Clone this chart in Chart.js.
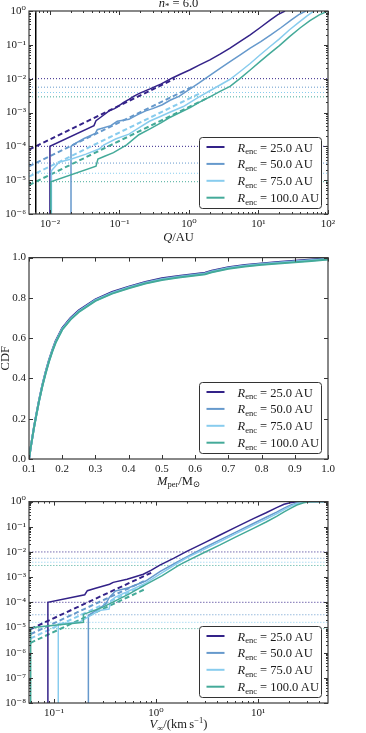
<!DOCTYPE html>
<html><head><meta charset="utf-8">
<script src="https://cdn.jsdelivr.net/npm/chart.js@4.4.1/dist/chart.umd.min.js"></script>
<style>
html,body{margin:0;padding:0;background:#fff;width:366px;height:733px;overflow:hidden;}
canvas{position:absolute;left:0;}
</style></head><body>
<canvas id="c1" width="366" height="248" style="top:0px;width:366px;height:248px"></canvas>
<canvas id="c2" width="366" height="244" style="top:248px;width:366px;height:244px"></canvas>
<canvas id="c3" width="366" height="241" style="top:492px;width:366px;height:241px"></canvas>
<script>
const COLORS = ['#332288', '#6699CC', '#88CCEE', '#44AA99'];
const rEnc = ['25.0', '50.0', '75.0', '100.0'];

// ---------- Panel 1: Q / AU ----------
const qTicks = [0.01, 0.1, 1, 10, 100];
const pTicks1 = [1e-6, 1e-5, 1e-4, 1e-3, 1e-2, 1e-1, 1];
const levelHigh = [1e-2, 5.6e-3, 3.9e-3, 2.9e-3];
const levelLow = [1e-4, 3.2e-5, 1.6e-5, 9e-6];
const qCut = 0.00625;

const q25 = [0.01, 0.01, 0.043, 0.046, 0.055, 0.071, 0.085, 0.099, 0.115, 0.137, 0.16, 0.19, 0.23, 0.275, 0.33, 0.4, 0.48, 0.577, 0.75, 1.04, 1.4, 2.0, 2.8, 3.9, 5.4, 7.6, 10.5, 14.7, 19, 24.1];
const p25 = [1e-7, 1e-4, 4.1e-4, 5.7e-4, 7.5e-4, 1.12e-3, 1.3e-3, 1.6e-3, 2.0e-3, 2.45e-3, 3.0e-3, 3.6e-3, 4.3e-3, 5.0e-3, 5.9e-3, 7.0e-3, 8.6e-3, 1.05e-2, 1.35e-2, 1.84e-2, 2.5e-2, 3.6e-2, 5.3e-2, 8.0e-2, 0.125, 0.197, 0.32, 0.54, 0.78, 1.0];
const q50 = [0.0201, 0.0201, 0.0222, 0.031, 0.045, 0.048, 0.075, 0.093, 0.137, 0.18, 0.239, 0.3, 0.414, 0.535, 0.72, 1.04, 1.4, 2.0, 2.8, 3.9, 5.4, 7.6, 10.8, 15.2, 21, 29.4, 38, 48];
const p50 = [1e-7, 1e-4, 1.17e-4, 1.7e-4, 2.4e-4, 3.1e-4, 4.1e-4, 5.5e-4, 6.3e-4, 8.5e-4, 1.12e-3, 1.3e-3, 1.7e-3, 2.3e-3, 3.0e-3, 5.0e-3, 7.5e-3, 1.25e-2, 2.0e-2, 3.2e-2, 5.0e-2, 8.0e-2, 0.125, 0.2, 0.32, 0.54, 0.78, 1.0];
const q75 = [0.0105, 0.0105, 0.0135, 0.021, 0.033, 0.051, 0.06, 0.088, 0.137, 0.19, 0.27, 0.38, 0.52, 0.83, 1.04, 1.4, 2.0, 2.8, 3.9, 5.4, 7.6, 10.5, 14.7, 20, 28, 38, 50, 63];
const p75 = [1e-7, 1.9e-5, 3.4e-5, 4.3e-5, 5.9e-5, 8.3e-5, 1.1e-4, 1.65e-4, 2.3e-4, 3.5e-4, 5.5e-4, 7.5e-4, 1.0e-3, 1.5e-3, 2.0e-3, 2.9e-3, 4.4e-3, 6.5e-3, 9.6e-3, 1.6e-2, 2.8e-2, 5.0e-2, 8.9e-2, 0.15, 0.28, 0.46, 0.72, 1.0];
const q100 = [0.0103, 0.0103, 0.046, 0.049, 0.06, 0.082, 0.127, 0.19, 0.275, 0.4, 0.52, 1.04, 1.4, 2.0, 2.8, 3.9, 5.4, 7.6, 10.5, 14.7, 20, 28, 40, 55, 75, 100];
const p100 = [1e-7, 9e-6, 2.6e-5, 4.2e-5, 5e-5, 6.5e-5, 1.1e-4, 2.2e-4, 3.3e-4, 5.0e-4, 7.0e-4, 1.4e-3, 2.0e-3, 2.9e-3, 4.2e-3, 5.9e-3, 1.0e-2, 1.8e-2, 3.2e-2, 5.7e-2, 9.5e-2, 0.175, 0.32, 0.52, 0.77, 1.0];
// dashed analytic lines (start / end)
const qDash = [[0.005, 0.625], [0.005, 1.09], [0.005, 1.52], [0.005, 2.0]];
const pDash = [[8e-5, 1e-2], [2.56e-5, 5.6e-3], [1.28e-5, 3.9e-3], [7.2e-6, 2.9e-3]];

// ---------- Panel 2: M_per ----------
const mTicks = [0.1, 0.2, 0.3, 0.4, 0.5, 0.6, 0.7, 0.8, 0.9, 1.0];
const cdfTicks = [0, 0.2, 0.4, 0.6, 0.8, 1.0];
const mPer = [0.1, 0.105, 0.11, 0.115, 0.12, 0.13, 0.14, 0.15, 0.16, 0.17, 0.18, 0.2, 0.225, 0.25, 0.3, 0.35, 0.4, 0.45, 0.5, 0.55, 0.6, 0.63, 0.65, 0.7, 0.75, 0.8, 0.85, 0.9, 0.95, 1.0];
const cdf25 = [0, 0.056, 0.107, 0.158, 0.204, 0.29, 0.366, 0.432, 0.49, 0.54, 0.585, 0.65, 0.70, 0.738, 0.793, 0.829, 0.856, 0.879, 0.897, 0.909, 0.919, 0.925, 0.935, 0.952, 0.963, 0.971, 0.978, 0.984, 0.990, 0.997];
const cdf50 = [0, 0.056, 0.106, 0.157, 0.202, 0.288, 0.364, 0.43, 0.488, 0.538, 0.582, 0.647, 0.697, 0.735, 0.790, 0.826, 0.853, 0.876, 0.894, 0.906, 0.916, 0.922, 0.932, 0.950, 0.961, 0.969, 0.976, 0.982, 0.988, 0.995];
const cdf75 = [0, 0.055, 0.105, 0.156, 0.201, 0.286, 0.362, 0.427, 0.485, 0.535, 0.579, 0.644, 0.694, 0.732, 0.787, 0.823, 0.850, 0.873, 0.891, 0.903, 0.913, 0.919, 0.929, 0.947, 0.958, 0.966, 0.973, 0.979, 0.985, 0.992];
const cdf100 = [0, 0.055, 0.105, 0.155, 0.2, 0.285, 0.36, 0.425, 0.483, 0.533, 0.577, 0.642, 0.692, 0.730, 0.785, 0.821, 0.848, 0.871, 0.889, 0.901, 0.911, 0.917, 0.927, 0.945, 0.956, 0.964, 0.971, 0.977, 0.983, 0.990];

// ---------- Panel 3: V_inf ----------
const vTicks = [0.1, 1, 10];
const pTicks3 = [1e-8, 1e-7, 1e-6, 1e-5, 1e-4, 1e-3, 1e-2, 1e-1, 1];
const v25 = [0.087, 0.087, 0.2, 0.212, 0.26, 0.35, 0.38, 0.52, 0.75, 0.9, 1.09, 1.5, 2.0, 3.0, 4.24, 6.0, 9.0, 12, 15.2, 18, 20.6, 23, 25.7, 48];
const pv25 = [1e-9, 1e-4, 2e-4, 2.9e-4, 3.7e-4, 5.2e-4, 6.2e-4, 8.2e-4, 1.3e-3, 1.9e-3, 3.0e-3, 5.7e-3, 1.05e-2, 2.35e-2, 4.7e-2, 9.4e-2, 0.21, 0.36, 0.58, 0.78, 0.9, 0.97, 1.0, 1.0];
const v50 = [0.217, 0.217, 0.256, 0.32, 0.35, 0.40, 0.54, 0.79, 1.1, 1.6, 2.0, 3.0, 4.24, 6.0, 9.0, 12, 15.2, 18, 21, 24, 27, 30, 48];
const pv50 = [1e-9, 3e-5, 4.7e-5, 8.5e-5, 1.6e-4, 2.8e-4, 3.8e-4, 7.0e-4, 1.7e-3, 3.9e-3, 6.4e-3, 1.5e-2, 3.0e-2, 6.0e-2, 0.135, 0.24, 0.38, 0.55, 0.74, 0.89, 0.97, 1.0, 1.0];
const v75 = [0.110, 0.110, 0.176, 0.276, 0.346, 0.36, 0.40, 0.54, 0.79, 1.15, 1.68, 2.0, 3.0, 4.24, 6.0, 9.0, 12, 15.2, 18, 21, 24, 28, 32, 48];
const pv75 = [1e-9, 1.4e-5, 1.6e-5, 4.7e-5, 5.4e-5, 1.15e-4, 1.6e-4, 2.8e-4, 5.8e-4, 1.5e-3, 3.9e-3, 5.8e-3, 1.3e-2, 2.6e-2, 5.2e-2, 0.117, 0.2, 0.33, 0.48, 0.66, 0.84, 0.96, 1.0, 1.0];
const v100 = [0.059, 0.059, 0.194, 0.194, 0.298, 0.54, 0.79, 1.15, 1.68, 2.0, 3.0, 4.24, 6.0, 9.0, 12, 15.2, 18, 21, 24, 28, 32, 48];
const pv100 = [1e-9, 9.8e-6, 1.6e-5, 3.3e-5, 6.3e-5, 2.1e-4, 5.0e-4, 1.15e-3, 3.0e-3, 4.3e-3, 9.7e-3, 1.9e-2, 3.9e-2, 8.6e-2, 0.155, 0.26, 0.39, 0.55, 0.73, 0.9, 0.99, 1.0];
const vDash = [[0.05, 0.9], [0.05, 0.8], [0.05, 0.8], [0.05, 0.8]];
const pvDash = [[6.4e-6, 1.5e-3], [4e-6, 7.6e-4], [2.7e-6, 5.1e-4], [1.8e-6, 3.5e-4]];

// ---------- helpers ----------
const SERIF = '"Liberation Serif", "DejaVu Serif", serif';
const TXT = '#1a1a1a';
const xy = (xs, ys) => xs.map((x, i) => ({x: x, y: ys[i]}));
function ds(xs, ys, color, extra) {
  return Object.assign({data: xy(xs, ys), borderColor: color, backgroundColor: color,
    borderWidth: 1.5, pointRadius: 0, pointHoverRadius: 0, showLine: true, fill: false, tension: 0}, extra || {});
}
const SUP = {'-': '\u207B', '0': '\u2070', '1': '\u00B9', '2': '\u00B2', '3': '\u00B3', '4': '\u2074', '5': '\u2075', '6': '\u2076', '7': '\u2077', '8': '\u2078', '9': '\u2079'};
const powLabel = v => '10' + String(Math.round(Math.log10(v))).split('').map(c => SUP[c]).join('');

function logAxis(min, max, majors, isX, size) {
  return {
    type: 'logarithmic', min: min, max: max,
    afterBuildTicks: s => { s.ticks = majors.map(v => ({value: v})); },
    afterFit: s => { if (isX) s.height = size; else s.width = size; },
    ticks: {callback: v => powLabel(v), font: {family: SERIF, size: 11}, color: TXT, padding: isX ? 4 : 3, autoSkip: false, maxRotation: 0},
    grid: {display: false, drawTicks: false}, border: {display: false}
  };
}
function linAxis(min, max, majors, isX, size) {
  return {
    type: 'linear', min: min, max: max,
    afterBuildTicks: s => { s.ticks = majors.map(v => ({value: v})); },
    afterFit: s => { if (isX) s.height = size; else s.width = size; },
    ticks: {callback: v => Number(v).toFixed(1), font: {family: SERIF, size: 11}, color: TXT, padding: isX ? 4 : 3, autoSkip: false, maxRotation: 0},
    grid: {display: false, drawTicks: false}, border: {display: false}
  };
}
function logMinors(min, max) {
  const out = [];
  for (let d = Math.floor(Math.log10(min)); d <= Math.ceil(Math.log10(max)); d++)
    for (let k = 2; k <= 9; k++) { const v = k * Math.pow(10, d); if (v > min && v < max) out.push(v); }
  return out;
}
function drawRich(ctx, parts, x, y, align) {
  let w = 0;
  parts.forEach(p => { ctx.font = p.f; p.w = ctx.measureText(p.t).width; w += p.w; });
  let cx = align === 'center' ? x - w / 2 : (align === 'right' ? x - w : x);
  parts.forEach(p => { ctx.font = p.f; ctx.fillText(p.t, cx, y + (p.dy || 0)); cx += p.w; });
}
function roundRect(ctx, x, y, w, h, r) {
  ctx.beginPath(); ctx.moveTo(x + r, y); ctx.lineTo(x + w - r, y); ctx.quadraticCurveTo(x + w, y, x + w, y + r);
  ctx.lineTo(x + w, y + h - r); ctx.quadraticCurveTo(x + w, y + h, x + w - r, y + h); ctx.lineTo(x + r, y + h);
  ctx.quadraticCurveTo(x, y + h, x, y + h - r); ctx.lineTo(x, y + r); ctx.quadraticCurveTo(x, y, x + r, y); ctx.closePath();
}
const F = (s, st) => (st || '') + ' ' + s + 'px ' + SERIF;

function decoPlugin(opt) {
  return {
    id: 'deco',
    afterDatasetsDraw(chart) {
      const ctx = chart.ctx, a = chart.chartArea, xs = chart.scales.x, ys = chart.scales.y;
      ctx.save();
      ctx.strokeStyle = '#333'; ctx.lineWidth = 1;
      const tick = (x1, y1, x2, y2) => { ctx.beginPath(); ctx.moveTo(x1, y1); ctx.lineTo(x2, y2); ctx.stroke(); };
      const drawX = (vals, len) => vals.forEach(v => { const p = Math.round(xs.getPixelForValue(v)) + 0.5; tick(p, a.bottom, p, a.bottom - len); tick(p, a.top, p, a.top + len); });
      const drawY = (vals, len) => vals.forEach(v => { const p = Math.round(ys.getPixelForValue(v)) + 0.5; tick(a.left, p, a.left + len, p); tick(a.right, p, a.right - len, p); });
      drawX(opt.xMajor, 4); drawY(opt.yMajor, 4);
      drawX(opt.xMinor, 2); drawY(opt.yMinor, 2);
      ctx.lineWidth = 1.2; ctx.strokeStyle = '#3a3a3a';
      ctx.strokeRect(a.left, a.top, a.right - a.left, a.bottom - a.top);
      ctx.restore();
    },
    afterDraw(chart) {
      const ctx = chart.ctx, a = chart.chartArea;
      ctx.save();
      // legend
      const w = 122, h = 71, lx = Math.round(a.right - 7 - w) + 0.5, ly = Math.round(a.bottom - 6 - h) + 0.5;
      roundRect(ctx, lx, ly, w, h, 3);
      ctx.fillStyle = '#fff'; ctx.fill(); ctx.strokeStyle = '#333'; ctx.lineWidth = 1; ctx.stroke();
      ctx.textBaseline = 'alphabetic';
      for (let i = 0; i < 4; i++) {
        const yc = ly + 9.5 + 16.9 * i;
        ctx.beginPath(); ctx.moveTo(lx + 7, yc); ctx.lineTo(lx + 25, yc); ctx.strokeStyle = COLORS[i]; ctx.lineWidth = 2; ctx.stroke();
        ctx.fillStyle = TXT;
        drawRich(ctx, [{t: 'R', f: F(12.5, 'italic')}, {t: 'enc', f: F(8.5), dy: 2.5}, {t: ' = ' + rEnc[i] + '\u2009AU', f: F(12.5)}], lx + 38, yc + 4.5, 'left');
      }
      // axis labels
      ctx.fillStyle = TXT;
      const cx = (a.left + a.right) / 2;
      if (opt.xLabel) drawRich(ctx, opt.xLabel, cx, opt.xLabelY, 'center');
      if (opt.title) drawRich(ctx, opt.title, cx, opt.titleY, 'center');
      if (opt.yLabel) {
        ctx.translate(opt.yLabelX, (a.top + a.bottom) / 2); ctx.rotate(-Math.PI / 2);
        drawRich(ctx, opt.yLabel, 0, 0, 'center');
      }
      ctx.restore();
    }
  };
}
function baseOpts(xAxis, yAxis, padTop, padRight) {
  return {
    responsive: false, animation: false, devicePixelRatio: 1,
    layout: {padding: {left: 0, right: padRight, top: padTop, bottom: 0}},
    plugins: {legend: {display: false}, tooltip: {enabled: false}},
    scales: {x: xAxis, y: yAxis}
  };
}

// ---------- Chart 1 ----------
(function () {
  const sets = [];
  const solids = [[q25, p25], [q50, p50], [q75, p75], [q100, p100]];
  solids.forEach((s, i) => sets.push(ds(s[0], s[1], COLORS[i], {order: 10 - i})));
  qDash.forEach((q, i) => sets.push(ds(q, pDash[i], COLORS[i], {borderWidth: 2, borderDash: [5, 3], order: 20 - i})));
  levelHigh.forEach((v, i) => sets.push(ds([0.005, 100], [v, v], COLORS[i], {borderWidth: 1, borderDash: [1, 2], order: 30})));
  levelLow.forEach((v, i) => sets.push(ds([0.005, 100], [v, v], COLORS[i], {borderWidth: 1, borderDash: [1, 2], order: 30})));
  sets.push(ds([qCut, qCut], [1e-7, 1], '#000', {borderWidth: 1.5, order: 5}));
  new Chart(document.getElementById('c1'), {
    type: 'scatter',
    data: {datasets: sets},
    options: baseOpts(logAxis(0.005, 100, qTicks, true, 34), logAxis(1e-6, 1, pTicks1, false, 29), 11, 38),
    plugins: [decoPlugin({
      xMajor: qTicks, yMajor: pTicks1, xMinor: logMinors(0.005, 100), yMinor: logMinors(1e-6, 1),
      xLabel: [{t: 'Q', f: F(12.5, 'italic')}, {t: '/AU', f: F(12.5)}], xLabelY: 241,
      title: [{t: 'n', f: F(12.5, 'italic')}, {t: '*', f: F(9), dy: 2}, {t: ' = 6.0', f: F(12.5)}], titleY: 7
    })]
  });
})();

// ---------- Chart 2 ----------
(function () {
  const cdfs = [cdf25, cdf50, cdf75, cdf100];
  const sets = cdfs.map((c, i) => ds(mPer, c, COLORS[i], {borderWidth: 2, order: 10 - i}));
  new Chart(document.getElementById('c2'), {
    type: 'scatter',
    data: {datasets: sets},
    options: baseOpts(linAxis(0.1, 1.0, mTicks, true, 33), linAxis(0, 1, cdfTicks, false, 29), 8, 38),
    plugins: [decoPlugin({
      xMajor: mTicks, yMajor: cdfTicks, xMinor: [], yMinor: [],
      xLabel: [{t: 'M', f: F(12.5, 'italic')}, {t: 'per', f: F(8.5), dy: 2.5}, {t: '/M', f: F(12.5)}, {t: '\u2299', f: F(8.5), dy: 2.5}], xLabelY: 236.5,
      yLabel: [{t: 'CDF', f: F(12.5)}], yLabelX: 8.5
    })]
  });
})();

// ---------- Chart 3 ----------
(function () {
  const sets = [];
  const solids = [[v25, pv25], [v50, pv50], [v75, pv75], [v100, pv100]];
  solids.forEach((s, i) => sets.push(ds(s[0], s[1], COLORS[i], {order: 10 - i})));
  vDash.forEach((v, i) => sets.push(ds(v, pvDash[i], COLORS[i], {borderWidth: 2, borderDash: [5, 3], order: 20 - i})));
  levelHigh.forEach((v, i) => sets.push(ds([0.05, 50], [v, v], COLORS[i], {borderWidth: 1, borderDash: [1, 2], order: 30})));
  levelLow.forEach((v, i) => sets.push(ds([0.05, 50], [v, v], COLORS[i], {borderWidth: 1, borderDash: [1, 2], order: 30})));
  new Chart(document.getElementById('c3'), {
    type: 'scatter',
    data: {datasets: sets},
    options: baseOpts(logAxis(0.0568, 48.5, vTicks, true, 30), logAxis(1e-8, 1, pTicks3, false, 29), 7, 38),
    plugins: [decoPlugin({
      xMajor: vTicks, yMajor: pTicks3, xMinor: logMinors(0.0568, 48.5), yMinor: logMinors(1e-8, 1),
      xLabel: [{t: 'V', f: F(12.5, 'italic')}, {t: '\u221E', f: F(8.5), dy: 2.5}, {t: '/(km\u2009s', f: F(12.5)}, {t: '\u22121', f: F(8.5), dy: -5}, {t: ')', f: F(12.5)}], xLabelY: 236
    })]
  });
})();
</script>
</body></html>
